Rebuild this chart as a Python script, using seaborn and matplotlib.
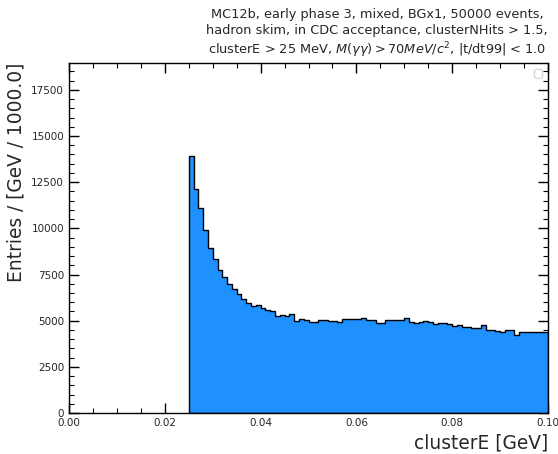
import numpy as np
import pandas as pd
import matplotlib
matplotlib.use("Agg")
import matplotlib.pyplot as plt
from matplotlib.ticker import MultipleLocator, FormatStrFormatter
import seaborn as sns

# Cluster energy histogram: 1 MeV bins starting at the 25 MeV cut
bin_width = 0.001
first_edge = 0.025
counts = [
    13900, 12150, 11100, 9900, 8950, 8320, 7750, 7340, 6990, 6690,
    6420, 6190, 5960, 5790, 5840, 5700, 5580, 5520, 5270, 5320,
    5270, 5370, 5000, 5100, 5030, 4950, 4950, 5060, 5040, 5000,
    5000, 4940, 5080, 5080, 5070, 5080, 5120, 5050, 5040, 4890,
    4890, 5050, 5050, 5050, 5050, 5120, 4940, 4890, 4950, 5000,
    4950, 4800, 4850, 4850, 4800, 4700, 4750, 4650, 4650, 4580,
    4580, 4760, 4520, 4520, 4450, 4380, 4470, 4520, 4240, 4400,
    4380, 4380, 4380, 4380, 4380,
]
x_label = "clusterE [GeV]"
y_label = "Entries / [GeV / 1000.0]"
title_lines = [
    "MC12b, early phase 3, mixed, BGx1, 50000 events,",
    "hadron skim, in CDC acceptance, clusterNHits > 1.5,",
    r"clusterE > 25 MeV, $M(\gamma\gamma) > 70 MeV/c^2$, |t/dt99| < 1.0",
]

last_edge = first_edge + bin_width * len(counts)
centers = first_edge + bin_width * (np.arange(len(counts)) + 0.5)
df = pd.DataFrame({"clusterE": centers, "entries": counts})

sns.set_style("ticks")
plt.rcParams["font.family"] = ["DejaVu Sans"]
plt.rcParams.update({
    "xtick.direction": "in", "ytick.direction": "in",
    "xtick.top": True, "ytick.right": True,
    "xtick.major.size": 7, "ytick.major.size": 7,
    "xtick.minor.size": 3.5, "ytick.minor.size": 3.5,
    "xtick.major.width": 1.0, "ytick.major.width": 1.0,
    "xtick.minor.width": 0.8, "ytick.minor.width": 0.8,
    "axes.edgecolor": "black", "axes.linewidth": 1.0,
    "xtick.color": "black", "ytick.color": "black",
    "xtick.labelcolor": "0.15", "ytick.labelcolor": "0.15",
    "mathtext.default": "it",
})

fig = plt.figure(figsize=(5.58, 4.54), dpi=100)
ax = fig.add_axes([0.1237, 0.0903, 0.8584, 0.7708])

sns.histplot(data=df, x="clusterE", weights="entries",
             binwidth=bin_width, binrange=(first_edge, last_edge),
             element="step", fill=True, color="#1E90FF", alpha=1.0,
             edgecolor="black", linewidth=1.0, ax=ax)

ax.set_xlim(0, 0.1)
ax.set_ylim(0, 18950)
ax.xaxis.set_major_locator(MultipleLocator(0.02))
ax.xaxis.set_minor_locator(MultipleLocator(0.005))
ax.xaxis.set_major_formatter(FormatStrFormatter("%.2f"))
ax.yaxis.set_major_locator(MultipleLocator(2500))
ax.yaxis.set_minor_locator(MultipleLocator(500))
ax.tick_params(which="both", top=True, right=True, direction="in")
ax.tick_params(labelsize=7.5)

ax.set_xlabel(x_label, loc="right", fontsize=13.4, color="0.15")
ax.set_ylabel(y_label, loc="top", fontsize=13.4, color="0.15")

ax.set_title("\n".join(title_lines), loc="right", fontsize=9.3,
             multialignment="center", linespacing=1.3, pad=6, color="0.15")

ax.legend(handles=[], loc="upper right", fontsize=8)

fig.savefig("out.png", dpi=100)
